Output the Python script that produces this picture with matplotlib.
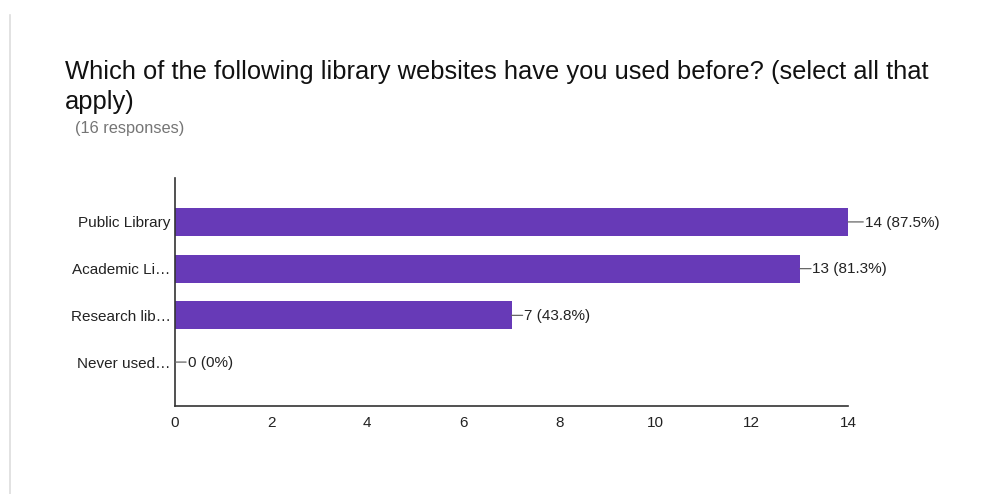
import numpy as np
import matplotlib
matplotlib.use('Agg')
import matplotlib.pyplot as plt
from matplotlib.lines import Line2D

plt.rcParams['font.family'] = ['Liberation Sans', 'DejaVu Sans']

categories = ['Public Library', 'Academic Li…', 'Research lib…', 'Never used…']
counts = [14, 13, 7, 0]
percents = ['87.5%', '81.3%', '43.8%', '0%']
total_responses = 16
xticks = [0, 2, 4, 6, 8, 10, 12, 14]

bar_color = '#673ab7'
text_color = '#222222'

fig = plt.figure(figsize=(9.85, 4.94), dpi=100)
ax = fig.add_axes([175 / 985, 1 - 406 / 494, 673 / 985, 228 / 494])

y = np.arange(len(categories))
ax.barh(y, counts, height=0.6, color=bar_color)
ax.set_ylim(len(categories) - 1 + 0.94, -0.94)
ax.set_xlim(0, 14)
ax.set_yticks(y)
ax.set_yticklabels(categories, fontsize=11, color=text_color)
ax.set_xticks(xticks)
ax.set_xticklabels([str(t) for t in xticks], fontsize=11, color=text_color)
ax.tick_params(length=0)
ax.tick_params(axis='x', pad=7)
ax.tick_params(axis='y', pad=3)

for s in ['top', 'right']:
    ax.spines[s].set_visible(False)
for s in ['left', 'bottom']:
    ax.spines[s].set_color('#333333')
    ax.spines[s].set_linewidth(1.2)

# value labels with short leader lines
for yi, c, p in zip(y, counts, percents):
    off = 12 if c < max(counts) else 16
    ax.annotate('', xy=(c, yi), xytext=(off * 0.75 - 1, 0), textcoords='offset points',
                arrowprops=dict(arrowstyle='-', color='#666666', lw=0.9,
                                shrinkA=0, shrinkB=0))
    ax.annotate(f'{c} ({p})', xy=(c, yi), xytext=(off * 0.75, -0.5),
                textcoords='offset points', va='center', ha='left',
                fontsize=11, color=text_color)

fig.text(65 / 985, 1 - 60 / 494, 'Which of the following library websites have you used before? (select all that\napply)',
         fontsize=18.4, color='#111111', va='top', ha='left', linespacing=1.32)
fig.text(75 / 985, 1 - 128 / 494, f'({total_responses} responses)', fontsize=11.8,
         color='#757575', va='center', ha='left')

fig.add_artist(Line2D([10 / 985, 10 / 985], [0, 1 - 15 / 494], color='#dddddd', lw=1.2))

fig.savefig('out.png', dpi=100, facecolor='white')
